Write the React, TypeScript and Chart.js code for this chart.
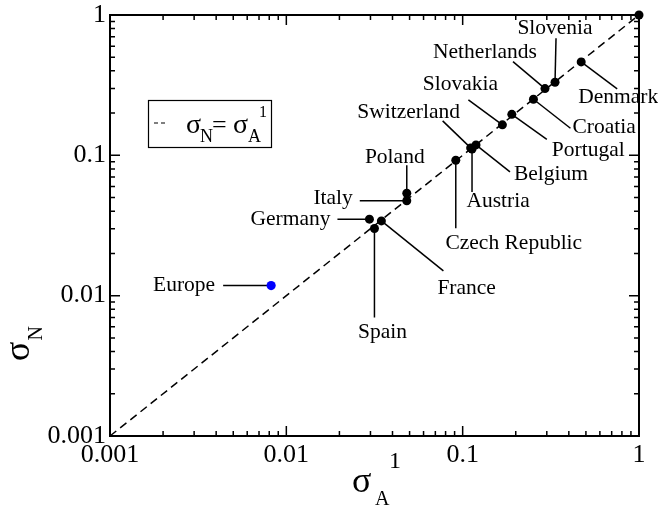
import React, { useEffect, useRef } from "react";
import { Chart, registerables } from "chart.js";

Chart.register(...registerables);

// ---- data ----
const countries = [
  "Slovenia", "Netherlands", "Denmark", "Croatia", "Portugal", "Slovakia",
  "Switzerland", "Belgium", "Austria", "Czech Republic", "Poland", "Italy",
  "Germany", "Spain", "France",
];
const sigmaA = [0.334, 0.293, 0.47, 0.252, 0.19, 0.168, 0.111, 0.119, 0.113, 0.0914, 0.0482, 0.0482, 0.0296, 0.0316, 0.0346];
const sigmaN = [0.332, 0.299, 0.463, 0.251, 0.196, 0.165, 0.113, 0.1186, 0.111, 0.0923, 0.0537, 0.0475, 0.0351, 0.0301, 0.0341];
const europeName = "Europe";
const europeA = [0.0082];
const europeN = [0.0118];
const unitA = [1];
const unitN = [1];
const diagonal = [0.001, 1];
const decadeTicks = [0.001, 0.01, 0.1, 1];
const decadeLabels = ["0.001", "0.01", "0.1", "1"];

// ---- annotation layout (pixel offsets from each point) ----
type Lay = { lx: number; ly: number; tx: number; ty: number; align: CanvasTextAlign };
const LAYOUT: Record<string, Lay> = {
  Slovenia: { lx: 1, ly: -44, tx: 0, ty: -54, align: "center" },
  Netherlands: { lx: -32, ly: -27, tx: -60, ty: -36, align: "center" },
  Denmark: { lx: 36, ly: 27, tx: -3, ty: 35, align: "left" },
  Croatia: { lx: 37, ly: 29, tx: 39, ty: 28, align: "left" },
  Portugal: { lx: 35, ly: 25, tx: 40, ty: 36, align: "left" },
  Slovakia: { lx: -34, ly: -25, tx: -42, ty: -40, align: "center" },
  Switzerland: { lx: -28, ly: -27, tx: -62, ty: -36, align: "center" },
  Belgium: { lx: 34, ly: 27, tx: 38, ty: 29, align: "left" },
  Austria: { lx: 0, ly: 43, tx: 26, ty: 52, align: "center" },
  "Czech Republic": { lx: 0, ly: 68, tx: 58, ty: 83, align: "center" },
  Poland: { lx: 0, ly: -28, tx: -12, ty: -36, align: "center" },
  Italy: { lx: -47, ly: 0, tx: -54, ty: -2, align: "right" },
  Germany: { lx: -32, ly: 0, tx: -39, ty: 0, align: "right" },
  Spain: { lx: 0, ly: 89, tx: 8, ty: 104, align: "center" },
  France: { lx: 62, ly: 50, tx: 56, ty: 67, align: "left" },
  Europe: { lx: -48, ly: 0, tx: -56, ty: 0, align: "right" },
};

const SERIF = '"Liberation Serif", "Times New Roman", serif';

const decorPlugin = {
  id: "decor",
  beforeDatasetsDraw(chart: any) {
    const { ctx, chartArea: ca, scales } = chart;
    const x = scales.x, y = scales.y;
    ctx.save();
    // leader lines and labels
    ctx.strokeStyle = "#000";
    ctx.fillStyle = "#000";
    ctx.lineWidth = 1.5;
    ctx.font = `21.5px ${SERIF}`;
    ctx.textBaseline = "middle";
    const names = [...countries, europeName];
    const as = [...sigmaA, europeA[0]];
    const ns = [...sigmaN, europeN[0]];
    names.forEach((nm, i) => {
      const l = LAYOUT[nm];
      if (!l) return;
      const px = x.getPixelForValue(as[i]);
      const py = y.getPixelForValue(ns[i]);
      ctx.beginPath();
      ctx.moveTo(px, py);
      ctx.lineTo(px + l.lx, py + l.ly);
      ctx.stroke();
      ctx.textAlign = l.align;
      ctx.fillText(nm, px + l.tx, py + l.ty);
    });

    // frame
    ctx.lineWidth = 2;
    ctx.strokeRect(ca.left, ca.top, ca.right - ca.left, ca.bottom - ca.top);

    // inward ticks on all four sides
    ctx.lineWidth = 1.5;
    const vals: { v: number; major: boolean }[] = [];
    for (let e = -3; e <= -1; e++) {
      for (let m = 1; m <= 9; m++) vals.push({ v: m * Math.pow(10, e), major: m === 1 });
    }
    vals.push({ v: 1, major: true });
    vals.forEach(({ v, major }) => {
      const len = major ? 10 : 5;
      const px = x.getPixelForValue(v);
      const py = y.getPixelForValue(v);
      ctx.beginPath();
      ctx.moveTo(px, ca.bottom); ctx.lineTo(px, ca.bottom - len);
      ctx.moveTo(px, ca.top); ctx.lineTo(px, ca.top + len);
      ctx.moveTo(ca.left, py); ctx.lineTo(ca.left + len, py);
      ctx.moveTo(ca.right, py); ctx.lineTo(ca.right - len, py);
      ctx.stroke();
    });

    // legend box
    const bx = ca.left + 38, by = ca.top + 85;
    ctx.lineWidth = 1.2;
    ctx.strokeRect(bx + 0.5, by + 0.5, 123, 47);
    ctx.setLineDash([4, 3]);
    ctx.beginPath();
    ctx.moveTo(bx + 6, by + 23);
    ctx.lineTo(bx + 19, by + 23);
    ctx.stroke();
    ctx.setLineDash([]);
    ctx.textAlign = "left";
    ctx.textBaseline = "alphabetic";
    ctx.font = `28px ${SERIF}`;
    ctx.fillText("σ", bx + 38, by + 33);
    ctx.font = `18px ${SERIF}`;
    ctx.fillText("N", bx + 52, by + 42);
    ctx.font = `26px ${SERIF}`;
    ctx.fillText("=", bx + 64, by + 33);
    ctx.font = `28px ${SERIF}`;
    ctx.fillText("σ", bx + 85, by + 33);
    ctx.font = `18px ${SERIF}`;
    ctx.fillText("A", bx + 100, by + 42);
    ctx.font = `16px ${SERIF}`;
    ctx.fillText("1", bx + 111, by + 17);

    // x axis title
    ctx.font = `36px ${SERIF}`;
    ctx.fillText("σ", 352, 492);
    ctx.font = `20px ${SERIF}`;
    ctx.fillText("A", 375, 505);
    ctx.font = `24px ${SERIF}`;
    ctx.fillText("1", 389, 468);

    // y axis title
    ctx.save();
    ctx.translate(29, 361);
    ctx.rotate(-Math.PI / 2);
    ctx.font = `36px ${SERIF}`;
    ctx.fillText("σ", 0, 0);
    const w = ctx.measureText("σ").width;
    ctx.font = `20px ${SERIF}`;
    ctx.fillText("N", w + 1, 13);
    ctx.restore();

    ctx.restore();
  },
};

const tickLabel = (v: any) => {
  const val = Number(v);
  const i = decadeTicks.findIndex((d) => Math.abs(d - val) / d < 1e-6);
  return i >= 0 ? decadeLabels[i] : "";
};

export default function App() {
  const ref = useRef<HTMLCanvasElement>(null);
  useEffect(() => {
    document.body.style.margin = "0";
    document.body.style.overflow = "hidden";
    const chart = new Chart(ref.current as HTMLCanvasElement, {
      type: "scatter",
      data: {
        datasets: [
          {
            type: "line",
            data: diagonal.map((d) => ({ x: d, y: d })),
            borderColor: "#000",
            borderWidth: 1.5,
            borderDash: [8, 5],
            pointRadius: 0,
            showLine: true,
            fill: false,
            clip: false,
          } as any,
          {
            data: sigmaA.map((a, i) => ({ x: a, y: sigmaN[i] })),
            backgroundColor: "#000",
            borderColor: "#000",
            pointRadius: 4.5,
            borderWidth: 0,
            clip: false,
          } as any,
          {
            data: europeA.map((a, i) => ({ x: a, y: europeN[i] })),
            backgroundColor: "#0000ff",
            borderColor: "#0000ff",
            pointRadius: 4.6,
            borderWidth: 0,
            clip: false,
          } as any,
          {
            data: unitA.map((a, i) => ({ x: a, y: unitN[i] })),
            backgroundColor: "#000",
            borderColor: "#000",
            pointRadius: 4.5,
            borderWidth: 0,
            clip: false,
          } as any,
        ],
      },
      options: {
        responsive: false,
        animation: false,
        devicePixelRatio: 1,
        layout: { padding: { top: 15, right: 19, left: 0, bottom: 0 } },
        plugins: { legend: { display: false }, tooltip: { enabled: false } },
        scales: {
          x: {
            type: "logarithmic",
            position: "bottom",
            min: 0.001,
            max: 1,
            grid: { display: false, drawTicks: false },
            border: { display: false },
            ticks: {
              autoSkip: false,
              maxRotation: 0,
              padding: 4,
              color: "#000",
              font: { family: SERIF, size: 26 },
              callback: tickLabel,
            },
            afterFit: (s: any) => {
              s.height = 72;
              s.paddingLeft = 0;
              s.paddingRight = 0;
            },
          },
          y: {
            type: "logarithmic",
            position: "left",
            min: 0.001,
            max: 1,
            grid: { display: false, drawTicks: false },
            border: { display: false },
            ticks: {
              autoSkip: false,
              padding: 4,
              color: "#000",
              font: { family: SERIF, size: 26 },
              callback: tickLabel,
            },
            afterFit: (s: any) => {
              s.width = 110;
              s.paddingTop = 0;
              s.paddingBottom = 0;
            },
          },
        },
      } as any,
      plugins: [decorPlugin],
    });
    return () => chart.destroy();
  }, []);
  return (
    <div style={{ width: 658, height: 508 }}>
      <canvas ref={ref} width={658} height={508} style={{ display: "block", width: 658, height: 508 }} />
    </div>
  );
}
